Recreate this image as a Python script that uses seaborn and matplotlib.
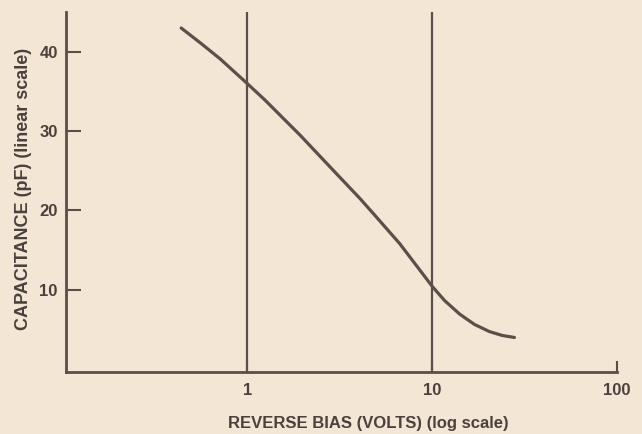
import matplotlib
matplotlib.use("Agg")
import matplotlib.pyplot as plt
import seaborn as sns
import pandas as pd

# Varactor capacitance vs reverse bias
bias_volts = [0.44, 0.56, 0.715, 0.99, 1.25, 1.56, 1.93, 2.80, 4.07, 5.02,
              6.68, 8.56, 10.06, 11.7, 14.1, 16.95, 20.4, 24.0, 27.9]
capacitance_pf = [43.0, 41.1, 39.1, 36.1, 33.9, 31.65, 29.5, 25.5, 21.5, 19.1,
                  15.8, 12.5, 10.35, 8.6, 6.9, 5.6, 4.7, 4.2, 3.95]
x_ticks = [1, 10, 100]
x_tick_labels = ["1", "10", "100"]
y_ticks = [10, 20, 30, 40]

ink = "#5a4f49"
text_col = "#4b413c"
paper = "#f3e6d5"

sns.set_style("ticks")
plt.rcParams["font.family"] = ["Liberation Sans", "DejaVu Sans"]
plt.rcParams["font.weight"] = "bold"

fig = plt.figure(figsize=(6.42, 4.34), dpi=100, facecolor=paper)
ax = fig.add_axes([0.103, 0.143, 0.858, 0.829])
ax.set_facecolor(paper)

df = pd.DataFrame({"bias": bias_volts, "cap": capacitance_pf})
sns.lineplot(data=df, x="bias", y="cap", ax=ax, color=ink, linewidth=2.3,
             solid_capstyle="round", solid_joinstyle="round", sort=False)

ax.set_xscale("log")
ax.set_xlim(0.105, 100)
ax.set_ylim(-0.4, 45)

for v in [1, 10]:
    ax.axvline(v, color=ink, linewidth=1.6, zorder=1)

ax.set_xticks(x_ticks)
ax.set_xticklabels(x_tick_labels)
ax.minorticks_off()
ax.set_yticks(y_ticks)

ax.tick_params(axis="y", direction="in", length=11, width=1.5, color=ink,
               labelsize=12, labelcolor=text_col, pad=6)
ax.tick_params(axis="x", direction="in", length=8, width=1.5, color=ink,
               labelsize=12, labelcolor=text_col, pad=8)

for side in ["top", "right"]:
    ax.spines[side].set_visible(False)
for side in ["left", "bottom"]:
    ax.spines[side].set_color(ink)
    ax.spines[side].set_linewidth(2.0)

ax.set_xlabel("REVERSE BIAS (VOLTS) (log scale)", fontsize=12, fontweight="bold",
              color=text_col, va="center")
ax.xaxis.set_label_coords(0.548, -0.142)
ax.set_ylabel("CAPACITANCE (pF) (linear scale)", fontsize=13, fontweight="bold",
              color=text_col, va="center")
ax.yaxis.set_label_coords(-0.078, 0.508)

fig.savefig("out.png", dpi=100, facecolor=paper)
